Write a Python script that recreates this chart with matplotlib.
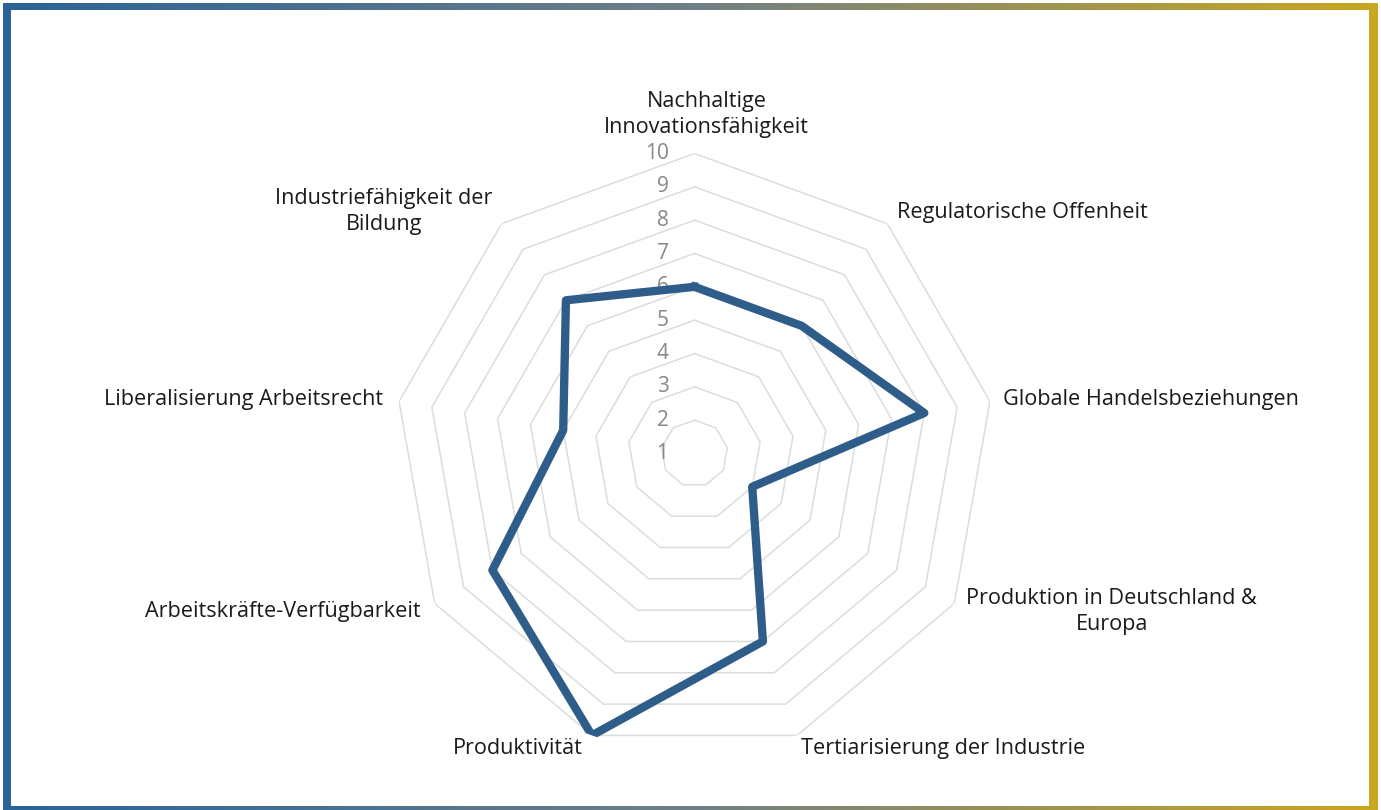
import numpy as np
import matplotlib.pyplot as plt
from matplotlib.patches import Rectangle
from matplotlib.colors import LinearSegmentedColormap

plt.rcParams['font.family'] = ['Open Sans', 'DejaVu Sans']

categories = ["Nachhaltige\nInnovationsfähigkeit", "Regulatorische Offenheit", "Globale Handelsbeziehungen",
              "Produktion in Deutschland &\nEuropa", "Tertiarisierung der Industrie", "Produktivität",
              "Arbeitskräfte-Verfügbarkeit", "Liberalisierung Arbeitsrecht", "Industriefähigkeit der\nBildung"]
values = [6, 6, 8, 3, 7, 10, 8, 5, 7]
levels = [1, 2, 3, 4, 5, 6, 7, 8, 9, 10]

line_color = '#2f5d8a'
grid_color = '#dcdcdc'

fig = plt.figure(figsize=(13.81, 8.10), dpi=100)

# gradient frame
bg = fig.add_axes([0, 0, 1, 1], zorder=0)
bg.set_xlim(0, 1381)
bg.set_ylim(810, 0)
bg.axis('off')
cmap = LinearSegmentedColormap.from_list('frame', ['#2a6398', '#6f7f86', '#c9a71f'])
grad = np.linspace(0, 1, 400).reshape(1, -1)
bg.imshow(grad, cmap=cmap, extent=[3, 1378, 814, 3], aspect='auto')
bg.add_patch(Rectangle((11, 10), 1358, 796, facecolor='white', edgecolor='none'))

ax = fig.add_axes([(694.5 - 300) / 1381, (810 - 453.5 - 300) / 810, 600 / 1381, 600 / 810],
                  projection='polar', zorder=1)
ax.set_facecolor('none')
ax.set_theta_zero_location('N')
ax.set_theta_direction(-1)
ax.set_ylim(1, 10)
ax.set_xticks([])
ax.set_yticks([])
ax.grid(False)
ax.spines['polar'].set_visible(False)

n = len(categories)
angles = np.linspace(0, 2 * np.pi, n, endpoint=False)
closed = np.append(angles, angles[0])

# nonagon rings, no spokes
for lvl in levels[1:]:
    ax.plot(closed, [lvl] * (n + 1), color=grid_color, lw=1.1, zorder=1)

ax.plot(closed, values + values[:1], color=line_color, lw=6.0, solid_joinstyle='round', zorder=3)

for lvl in levels:
    ax.annotate(str(lvl), xy=(0, lvl), xytext=(-26, 0), textcoords='offset pixels',
                ha='right', va='center', fontsize=15, color='#878787', zorder=2)

label_pos = [(12, 15, 'center', 'bottom'), (10, 11, 'left', 'center'), (13, 2, 'left', 'center'),
             (12, -8, 'left', 'center'), (4, -13, 'left', 'center'), (-9, -13, 'right', 'center'),
             (-14, -8, 'right', 'center'), (-16, 2, 'right', 'center'), (-9, 12, 'right', 'center')]
for a, lab, (dx, dy, ha, va) in zip(angles, categories, label_pos):
    ax.annotate(lab, xy=(a, 10), xytext=(dx, dy), textcoords='offset pixels',
                ha=ha, va=va, multialignment='center', fontsize=15.6, color='#1a1a1a',
                linespacing=1.35, annotation_clip=False)

fig.savefig('out.png', dpi=100)
